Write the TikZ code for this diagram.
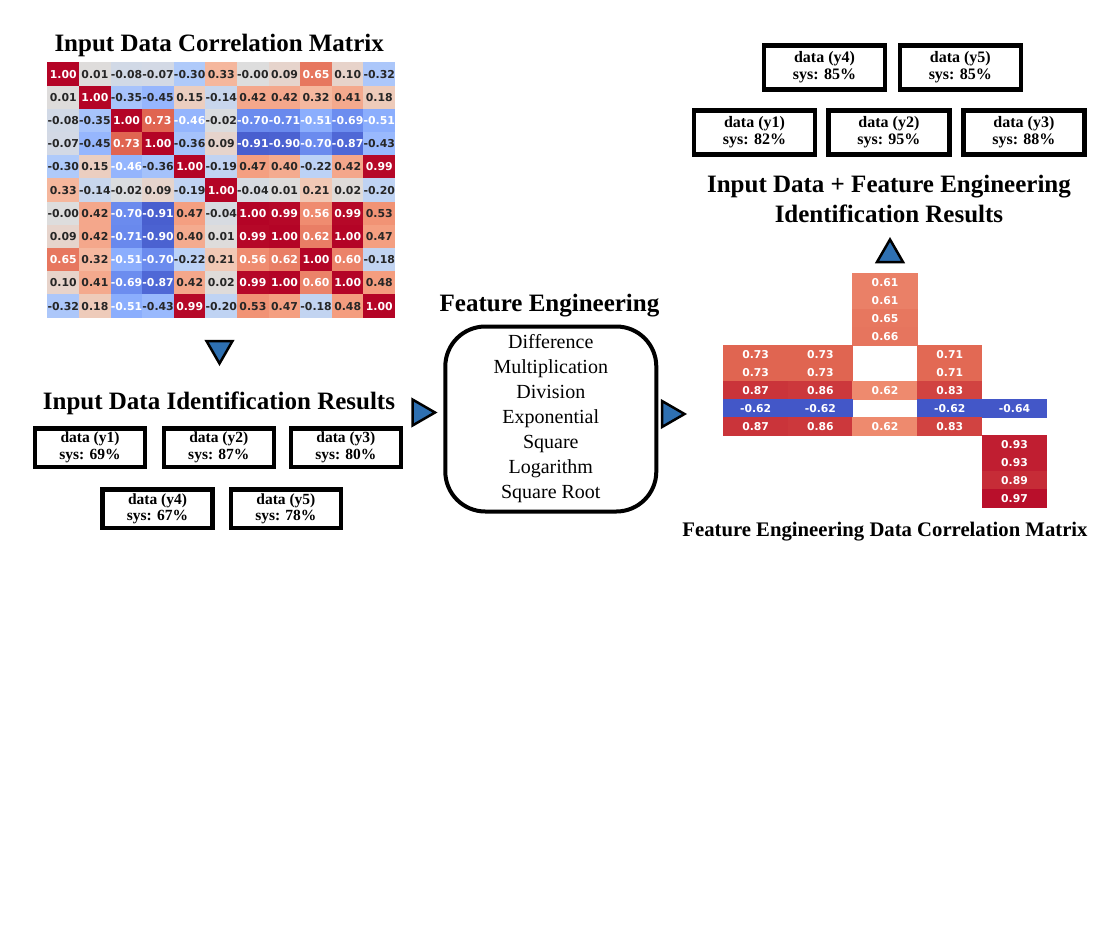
\documentclass[tikz,border=0pt]{standalone}
\usepackage{fontspec}
\setmainfont{Liberation Serif}
\newfontfamily\numfont{DejaVu Sans}
\usetikzlibrary{shapes.geometric}
\usepackage{xcolor}

% coolwarm anchors, v = -1, -0.75, ..., 1
\definecolor{cw0}{RGB}{59,76,192}
\definecolor{cw1}{RGB}{98,130,234}
\definecolor{cw2}{RGB}{141,176,254}
\definecolor{cw3}{RGB}{184,208,249}
\definecolor{cw4}{RGB}{221,221,221}
\definecolor{cw5}{RGB}{245,196,173}
\definecolor{cw6}{RGB}{244,154,123}
\definecolor{cw7}{RGB}{222,96,77}
\definecolor{cw8}{RGB}{180,4,38}
\definecolor{numtxt}{HTML}{262626}
\definecolor{markblue}{RGB}{46,112,178}

% sets cwcell (fill) and cwtext (label) for a value
\newcommand{\setcw}[1]{%
  \pgfmathsetmacro\cwS{(#1+1)*4}%
  \pgfmathtruncatemacro\cwK{min(7,floor(\cwS))}%
  \pgfmathtruncatemacro\cwN{\cwK+1}%
  \pgfmathtruncatemacro\cwF{round((\cwS-\cwK)*100)}%
  \colorlet{cwcell}{cw\cwN!\cwF!cw\cwK}%
  \pgfmathtruncatemacro\cwW{(#1>0.545)+(#1<-0.455)}%
  \ifnum\cwW>0 \colorlet{cwtext}{white}\else\colorlet{cwtext}{numtxt}\fi}

\begin{document}
\begin{tikzpicture}[
  x=1pt, y=-1pt,
  cell/.style={minimum width=31.9, minimum height=23.5, inner sep=0, font=\numfont\fontsize{10.9}{12}\selectfont\bfseries},
  fecell/.style={minimum width=65.2, minimum height=18.4, inner sep=0, text=white, font=\numfont\fontsize{10.8}{12}\selectfont\bfseries},
  title/.style={anchor=base, inner sep=0, font=\fontsize{25}{30}\selectfont\bfseries},
  resbox/.style={draw=black, line width=4.5, fill=white, minimum width=110, minimum height=38.5, inner sep=0, align=center, font=\fontsize{15.5}{16.5}\selectfont\bfseries},
  resboxb/.style={resbox, minimum width=121, minimum height=44, font=\fontsize{16}{17}\selectfont\bfseries},
  opbox/.style={draw=black, line width=4, rounded corners=40, minimum width=211, minimum height=185, align=center, font=\fontsize{20}{25}\selectfont},
  marker/.style={regular polygon, regular polygon sides=3, draw=black, line width=2.5, fill=markblue, minimum size=30, inner sep=0},
]

\fill[white] (0,0) rectangle (1100,924);
\useasboundingbox (0,0) rectangle (1100,924);

% input data correlation matrix
\node[title] (t-in) at (219.2, 51.7) {Input Data Correlation Matrix};
\foreach \rowvals [count=\i] in {
  {1.00,0.01,-0.08,-0.07,-0.30,0.33,-0.00,0.09,0.65,0.10,-0.32},
  {0.01,1.00,-0.35,-0.45,0.15,-0.14,0.42,0.42,0.32,0.41,0.18},
  {-0.08,-0.35,1.00,0.73,-0.46,-0.02,-0.70,-0.71,-0.51,-0.69,-0.51},
  {-0.07,-0.45,0.73,1.00,-0.36,0.09,-0.91,-0.90,-0.70,-0.87,-0.43},
  {-0.30,0.15,-0.46,-0.36,1.00,-0.19,0.47,0.40,-0.22,0.42,0.99},
  {0.33,-0.14,-0.02,0.09,-0.19,1.00,-0.04,0.01,0.21,0.02,-0.20},
  {-0.00,0.42,-0.70,-0.91,0.47,-0.04,1.00,0.99,0.56,0.99,0.53},
  {0.09,0.42,-0.71,-0.90,0.40,0.01,0.99,1.00,0.62,1.00,0.47},
  {0.65,0.32,-0.51,-0.70,-0.22,0.21,0.56,0.62,1.00,0.60,-0.18},
  {0.10,0.41,-0.69,-0.87,0.42,0.02,0.99,1.00,0.60,1.00,0.48},
  {-0.32,0.18,-0.51,-0.43,0.99,-0.20,0.53,0.47,-0.18,0.48,1.00}}{
  \foreach \v [count=\j] in \rowvals {
    \setcw{\v}
    \node[cell, fill=cwcell, text=cwtext] (m-\i-\j) at ({47.5+(\j-0.5)*31.6}, {62.5+(\i-0.5)*23.2}) {\v};
  }
}

\node[marker, shape border rotate=180] (dn) at (219.5, 348.5) {};

% input data results
\node[title] (t-res) at (219, 409.5) {Input Data Identification Results};
\node[resbox] (in-y1) at (90, 447.5) {data (y1)\\sys: 69\%};
\node[resbox] (in-y2) at (218.8, 447.5) {data (y2)\\sys: 87\%};
\node[resbox] (in-y3) at (345.9, 447.5) {data (y3)\\sys: 80\%};
\node[resbox] (in-y4) at (157.5, 508.7) {data (y4)\\sys: 67\%};
\node[resbox] (in-y5) at (285.9, 508.7) {data (y5)\\sys: 78\%};

\node[marker, shape border rotate=-90] (r1) at (420, 412.5) {};

% feature engineering
\node[title] (t-fe) at (549.5, 311) {Feature Engineering};
\node[opbox] (fe) at (550.8, 419) {Difference\\Multiplication\\Division\\Exponential\\Square\\Logarithm\\Square Root};

\node[marker, shape border rotate=-90] (r2) at (669.5, 414) {};

% feature engineering correlation matrix
\foreach \c/\r/\v/\sh in {3/1/0.61/0.61, 3/2/0.61/0.61, 3/3/0.65/0.65, 3/4/0.66/0.66,
  1/5/0.73/0.73, 2/5/0.73/0.73, 4/5/0.71/0.71,
  1/6/0.73/0.73, 2/6/0.73/0.73, 4/6/0.71/0.71,
  1/7/0.87/0.87, 2/7/0.86/0.86, 3/7/0.62/0.57, 4/7/0.83/0.83,
  1/8/-0.62/-0.95, 2/8/-0.62/-0.95, 4/8/-0.62/-0.95, 5/8/-0.64/-0.95,
  1/9/0.87/0.87, 2/9/0.86/0.86, 3/9/0.62/0.57, 4/9/0.83/0.83,
  5/10/0.93/0.93, 5/11/0.93/0.93, 5/12/0.89/0.89, 5/13/0.97/0.97}{
  \setcw{\sh}
  \node[fecell, fill=cwcell] (f-\r-\c) at ({723.3+(\c-0.5)*64.7}, {273.3+(\r-0.5)*18.03}) {\v};
}
\node[title, font=\fontsize{20.7}{24}\selectfont\bfseries] (t-fem) at (885, 536) {Feature Engineering Data Correlation Matrix};

\node[marker] (up) at (890, 254.5) {};

% combined results
\node[title, anchor=north, align=center] (t-out) at (889, 174.5) {Input Data + Feature Engineering\\Identification Results};
\node[resboxb] (out-y1) at (754.5, 132.5) {data (y1)\\sys: 82\%};
\node[resboxb] (out-y2) at (888.9, 132.5) {data (y2)\\sys: 95\%};
\node[resboxb] (out-y3) at (1023.9, 132.5) {data (y3)\\sys: 88\%};
\node[resboxb] (out-y4) at (824.5, 67.5) {data (y4)\\sys: 85\%};
\node[resboxb] (out-y5) at (960.3, 67.5) {data (y5)\\sys: 85\%};

\end{tikzpicture}
\end{document}
